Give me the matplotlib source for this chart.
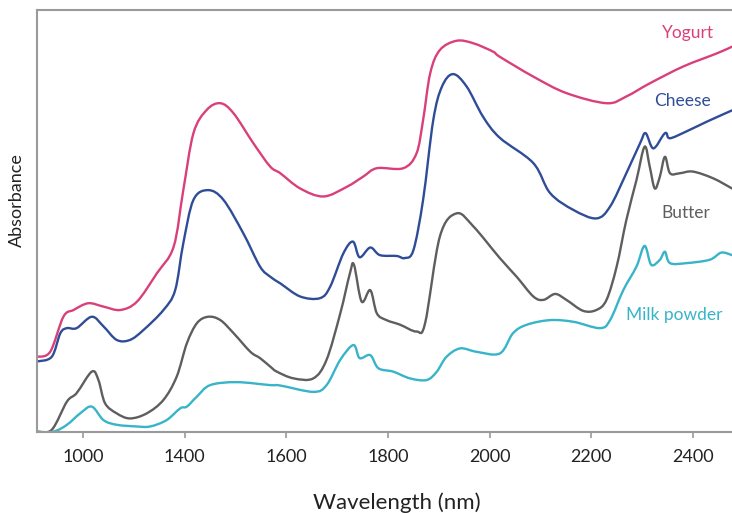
import numpy as np
import matplotlib
matplotlib.use('Agg')
import matplotlib.pyplot as plt
from matplotlib.path import Path
from matplotlib.patches import PathPatch

plt.rcParams['font.family'] = ['Lato', 'DejaVu Sans']

# NIR spectra, absorbance in arbitrary units (0..1 of the plot height)
yogurt_wl = [1109, 1135, 1161, 1181, 1210, 1240, 1273, 1306, 1345, 1378, 1397, 1417, 1443, 1470,
             1496, 1535, 1568, 1588, 1627, 1673, 1719, 1751, 1778, 1830, 1856, 1869, 1883, 1902,
             1935, 1968, 2007, 2020, 2086, 2151, 2230, 2269, 2315, 2381, 2447, 2477]
yogurt_abs = [0.178, 0.190, 0.273, 0.289, 0.305, 0.297, 0.289, 0.309, 0.376, 0.439, 0.573, 0.708,
              0.763, 0.779, 0.755, 0.684, 0.629, 0.613, 0.577, 0.558, 0.581, 0.605, 0.625, 0.625,
              0.660, 0.739, 0.850, 0.905, 0.927, 0.921, 0.901, 0.889, 0.842, 0.803, 0.779, 0.795,
              0.826, 0.866, 0.897, 0.913]

cheese_wl = [1109, 1138, 1155, 1168, 1187, 1217, 1240, 1266, 1292, 1319, 1358, 1381, 1397, 1417,
             1446, 1476, 1515, 1548, 1568, 1588, 1627, 1666, 1686, 1712, 1731, 1744, 1765, 1784,
             1817, 1833, 1850, 1869, 1889, 1906, 1928, 1955, 1987, 2020, 2086, 2119, 2165, 2210,
             2237, 2269, 2296, 2307, 2322, 2342, 2348, 2355, 2387, 2427, 2477]
cheese_abs = [0.167, 0.178, 0.234, 0.246, 0.246, 0.273, 0.250, 0.218, 0.218, 0.242, 0.289, 0.336,
              0.447, 0.550, 0.573, 0.550, 0.471, 0.392, 0.368, 0.352, 0.321, 0.317, 0.344, 0.423,
              0.451, 0.414, 0.437, 0.419, 0.417, 0.412, 0.431, 0.550, 0.739, 0.818, 0.848, 0.818,
              0.747, 0.697, 0.637, 0.566, 0.526, 0.506, 0.534, 0.613, 0.684, 0.708, 0.672, 0.704,
              0.708, 0.696, 0.712, 0.735, 0.762]

butter_wl = [1109, 1138, 1168, 1187, 1217, 1230, 1243, 1266, 1292, 1325, 1358, 1384, 1404, 1424,
             1446, 1470, 1496, 1529, 1548, 1568, 1581, 1614, 1653, 1679, 1706, 1725, 1733, 1748,
             1765, 1778, 1797, 1824, 1856, 1873, 1902, 1935, 1968, 2020, 2053, 2086, 2106, 2129,
             2151, 2184, 2210, 2230, 2250, 2269, 2289, 2305, 2315, 2325, 2335, 2345, 2355, 2374,
             2400, 2440, 2477]
butter_abs = [0.001, 0.005, 0.072, 0.092, 0.143, 0.123, 0.068, 0.044, 0.032, 0.044, 0.076, 0.131,
              0.210, 0.258, 0.273, 0.265, 0.234, 0.190, 0.175, 0.155, 0.143, 0.127, 0.127, 0.171,
              0.281, 0.376, 0.396, 0.309, 0.336, 0.281, 0.265, 0.254, 0.238, 0.258, 0.463, 0.518,
              0.487, 0.412, 0.368, 0.321, 0.313, 0.327, 0.313, 0.287, 0.289, 0.313, 0.392, 0.502,
              0.597, 0.676, 0.629, 0.577, 0.605, 0.652, 0.613, 0.613, 0.617, 0.601, 0.577]

milk_wl = [1109, 1142, 1168, 1194, 1217, 1240, 1266, 1305, 1332, 1364, 1391, 1404, 1424, 1450,
           1502, 1568, 1588, 1653, 1679, 1706, 1732, 1744, 1765, 1781, 1810, 1843, 1876, 1896,
           1915, 1942, 1974, 2020, 2046, 2073, 2119, 2165, 2217, 2237, 2263, 2289, 2305, 2318,
           2335, 2345, 2355, 2387, 2433, 2456, 2477]
milk_abs = [0.000, 0.001, 0.017, 0.044, 0.060, 0.028, 0.017, 0.013, 0.013, 0.028, 0.056, 0.060,
            0.084, 0.111, 0.118, 0.111, 0.110, 0.095, 0.111, 0.171, 0.206, 0.175, 0.182, 0.151,
            0.143, 0.127, 0.123, 0.143, 0.178, 0.198, 0.190, 0.186, 0.234, 0.254, 0.265, 0.261,
            0.246, 0.265, 0.336, 0.392, 0.441, 0.396, 0.408, 0.427, 0.400, 0.400, 0.408, 0.425,
            0.419]

names = ['Yogurt', 'Cheese', 'Butter', 'Milk powder']
colors = ['#d9407a', '#2f4d97', '#5e5e5e', '#38b4c9']
label_wl = [2390, 2380, 2386, 2364]
label_y = [0.945, 0.785, 0.519, 0.277]

tick_pos = [1200, 1400, 1600, 1800, 2000, 2200, 2400]
tick_labels = ['1000', '1400', '1600', '1800', '2000', '2200', '2400']


def smooth_path(x, y):
    # catmull-rom through the points, drawn as cubic bezier segments
    p = np.column_stack([x, y]).astype(float)
    ext = np.vstack([p[0], p, p[-1]])
    verts = [p[0]]
    codes = [Path.MOVETO]
    for i in range(1, len(ext) - 2):
        p0, p1, p2, p3 = ext[i - 1], ext[i], ext[i + 1], ext[i + 2]
        verts += [p1 + (p2 - p0) / 6, p2 - (p3 - p1) / 6, p2]
        codes += [Path.CURVE4] * 3
    return Path(verts, codes)


fig = plt.figure(figsize=(7.32, 5.13), dpi=100)
ax = fig.add_axes([0.0505, 0.158, 0.9495, 0.8226])

series = [(yogurt_wl, yogurt_abs), (cheese_wl, cheese_abs),
          (butter_wl, butter_abs), (milk_wl, milk_abs)]
for (wl, ab), name, c, lx, ly in zip(series, names, colors, label_wl, label_y):
    ax.add_patch(PathPatch(smooth_path(wl, ab), fill=False, edgecolor=c, lw=1.7,
                           joinstyle='round', capstyle='round'))
    ax.text(lx, ly, name, color=c, fontsize=12.5, ha='center', va='center')

ax.set_xlim(1109, 2477)
ax.set_ylim(0, 1)
ax.set_yticks([])
ax.set_xticks(tick_pos)
ax.set_xticklabels(tick_labels, fontsize=13, color='#222222')
ax.tick_params(axis='x', length=4, width=1.2, color='#999999', pad=8)
for s in ['left', 'top', 'bottom']:
    ax.spines[s].set_color('#9a9a9a')
    ax.spines[s].set_linewidth(1.5)
ax.spines['right'].set_visible(False)

fig.text(0.542, 0.02, 'Wavelength (nm)', fontsize=16, ha='center', va='center', color='#222222')
fig.text(0.023, 0.61, 'Absorbance', fontsize=13, rotation=90, ha='center', va='center', color='#222222')

fig.savefig('out.png', dpi=100)
